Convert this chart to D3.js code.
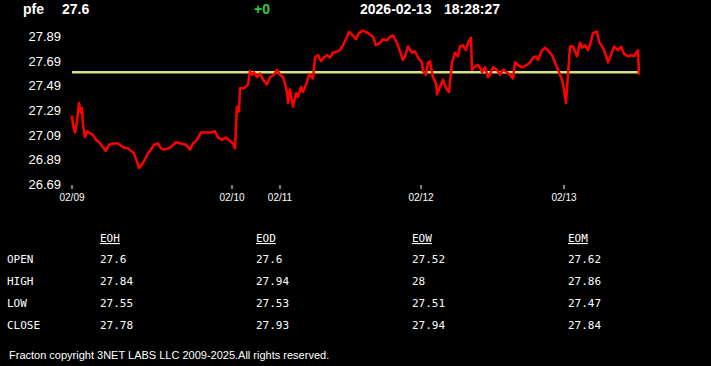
<!DOCTYPE html>
<html>
<head>
<meta charset="utf-8">
<script src="https://cdn.jsdelivr.net/npm/d3@7"></script>
<style>
  html, body { margin: 0; padding: 0; background: #000; }
  svg { display: block; }
</style>
</head>
<body>
<svg id="chart"></svg>
<script>
// Header info
const symbol = 'pfe';
const lastPrice = '27.6';
const change = '+0';
const quoteDate = '2026-02-13';
const quoteTime = '18:28:27';

// Intraday series: bar number since first bar, price
const bars = [0,1,3,5,7,9,10,11,13,15,17,21,24,27,31,34,37,41,46,51,56,59,62,65,67,70,73,76,79,82,86,89,92,96,99,104,109,114,118,121,125,129,133,139,143,146,150,154,158,161,163,164,165,167,168,172,176,178,180,182,185,188,191,195,198,202,205,208,211,213,215,216,218,220,221,224,226,229,231,235,237,241,243,246,249,252,255,258,261,265,268,271,275,277,281,284,287,291,296,301,304,308,311,315,318,321,325,328,331,333,336,340,343,346,350,351,354,356,358,360,361,364,365,368,371,374,377,379,380,383,386,388,391,394,396,399,400,402,406,408,410,413,416,418,421,425,428,431,435,438,441,443,446,450,455,458,461,464,466,470,473,476,480,483,486,490,492,494,496,498,501,505,508,510,513,516,518,521,525,527,530,532,536,539,542,546,549,552,556,559,562,564,566,567];
const prices = [27.25,27.17,27.11,27.20,27.35,27.27,27.31,27.17,27.07,27.12,27.11,27.09,27.05,27.03,26.99,26.96,27.01,27.02,27.02,26.99,26.98,26.96,26.94,26.87,26.82,26.85,26.89,26.94,26.97,27.01,27.02,26.98,26.97,26.98,26.99,27.03,27.02,27.01,26.97,27.02,27.05,27.11,27.11,27.11,27.12,27.07,27.05,27.07,27.04,27.02,26.98,27.17,27.32,27.28,27.47,27.47,27.50,27.61,27.58,27.60,27.56,27.59,27.54,27.50,27.56,27.58,27.62,27.58,27.56,27.51,27.44,27.35,27.46,27.37,27.32,27.43,27.40,27.48,27.44,27.52,27.58,27.55,27.72,27.74,27.69,27.72,27.74,27.72,27.76,27.77,27.78,27.82,27.89,27.93,27.90,27.87,27.92,27.94,27.92,27.89,27.82,27.84,27.87,27.86,27.89,27.90,27.84,27.77,27.70,27.73,27.81,27.76,27.77,27.72,27.68,27.61,27.58,27.68,27.69,27.60,27.56,27.51,27.42,27.48,27.54,27.47,27.44,27.60,27.68,27.76,27.73,27.81,27.82,27.78,27.84,27.88,27.62,27.64,27.66,27.64,27.60,27.64,27.56,27.58,27.64,27.62,27.58,27.62,27.60,27.58,27.55,27.68,27.66,27.64,27.66,27.68,27.72,27.73,27.70,27.78,27.80,27.78,27.74,27.68,27.62,27.54,27.46,27.35,27.58,27.81,27.81,27.73,27.84,27.80,27.82,27.78,27.82,27.92,27.93,27.85,27.81,27.78,27.68,27.74,27.81,27.78,27.81,27.75,27.73,27.74,27.73,27.76,27.78,27.58];
const refPrice = 27.6;

// Axis ticks
const yTicks = [26.69, 26.89, 27.09, 27.29, 27.49, 27.69, 27.89];
const dayLabels = ['02/09', '02/10', '02/11', '02/12', '02/13'];
const dayBars = [0, 160, 208, 349, 492];

// Summary table
const rowLabels = ['OPEN', 'HIGH', 'LOW', 'CLOSE'];
const periods = ['EOH', 'EOD', 'EOW', 'EOM'];
const eohValues = ['27.6', '27.84', '27.55', '27.78'];
const eodValues = ['27.6', '27.94', '27.53', '27.93'];
const eowValues = ['27.52', '28', '27.51', '27.94'];
const eomValues = ['27.62', '27.86', '27.47', '27.84'];
const periodValues = [eohValues, eodValues, eowValues, eomValues];

const footer = 'Fracton copyright 3NET LABS LLC 2009-2025.All rights reserved.';

const width = 711, height = 366;
const svg = d3.select('#chart').attr('width', width).attr('height', height);

svg.append('rect').attr('width', width).attr('height', height).attr('fill', '#000');

// Header
const head = svg.append('g')
    .style('font-family', 'Arial, "Liberation Sans", sans-serif')
    .style('font-weight', 'bold')
    .style('font-size', '14px');
head.append('text').attr('x', 23).attr('y', 14).attr('fill', '#fff').text(symbol);
head.append('text').attr('x', 62).attr('y', 14).attr('fill', '#fff').text(lastPrice);
head.append('text').attr('x', 254).attr('y', 14).attr('fill', '#33cc33').text(change);
head.append('text').attr('x', 360).attr('y', 14).attr('fill', '#fff').text(quoteDate);
head.append('text').attr('x', 444).attr('y', 14).attr('fill', '#fff').text(quoteTime);

// Scales
const x = d3.scaleLinear().domain([0, 568]).range([72, 640]);
const y = d3.scaleLinear().domain([26.69, 27.89]).range([184, 36.7]);

// Y labels
svg.append('g')
    .selectAll('text')
    .data(yTicks)
    .enter()
    .append('text')
    .attr('x', 61)
    .attr('y', d => y(d))
    .attr('dy', '0.36em')
    .attr('text-anchor', 'end')
    .attr('fill', '#fff')
    .style('font-family', 'Arial, "Liberation Sans", sans-serif')
    .style('font-size', '13px')
    .text(d => d.toFixed(2));

// X axis ticks and day labels
const xAxis = svg.append('g');
xAxis.selectAll('line')
    .data(dayBars)
    .enter()
    .append('line')
    .attr('x1', d => x(d)).attr('x2', d => x(d))
    .attr('y1', 185).attr('y2', 189)
    .attr('stroke', '#fff')
    .attr('stroke-width', 1);
xAxis.selectAll('text')
    .data(dayBars)
    .enter()
    .append('text')
    .attr('x', d => x(d))
    .attr('y', 201)
    .attr('text-anchor', 'middle')
    .attr('fill', '#fff')
    .style('font-family', 'Arial, "Liberation Sans", sans-serif')
    .style('font-size', '10px')
    .text((d, i) => dayLabels[i]);

// Reference line
svg.append('line')
    .attr('x1', x(0)).attr('x2', x(568))
    .attr('y1', y(refPrice)).attr('y2', y(refPrice))
    .attr('stroke', '#d6e17e')
    .attr('stroke-width', 2.5);

// Price line
const line = d3.line()
    .x((d, i) => x(bars[i]))
    .y(d => y(d));
svg.append('path')
    .datum(prices)
    .attr('d', line)
    .attr('fill', 'none')
    .attr('stroke', '#ff0000')
    .attr('stroke-width', 2.5)
    .attr('stroke-linejoin', 'round');

// Summary table
const table = svg.append('g')
    .style('font-family', '"DejaVu Sans Mono", "Liberation Mono", monospace')
    .style('font-size', '11px')
    .attr('fill', '#fff');
const colX = [100, 256, 412, 568];
const rowY = [263, 285, 307, 329];

table.selectAll('.hdr')
    .data(periods)
    .enter()
    .append('text')
    .attr('class', 'hdr')
    .attr('x', (d, i) => colX[i])
    .attr('y', 242)
    .style('text-decoration', 'underline')
    .text(d => d);

table.selectAll('.rowlbl')
    .data(rowLabels)
    .enter()
    .append('text')
    .attr('class', 'rowlbl')
    .attr('x', 7)
    .attr('y', (d, i) => rowY[i])
    .text(d => d);

periodValues.forEach((vals, c) => {
    table.selectAll('.val' + c)
        .data(vals)
        .enter()
        .append('text')
        .attr('class', 'val' + c)
        .attr('x', colX[c])
        .attr('y', (d, i) => rowY[i])
        .text(d => d);
});

// Footer
svg.append('text')
    .attr('x', 9)
    .attr('y', 359)
    .attr('fill', '#fff')
    .style('font-family', 'Arial, "Liberation Sans", sans-serif')
    .style('font-size', '11px')
    .text(footer);
</script>
</body>
</html>
